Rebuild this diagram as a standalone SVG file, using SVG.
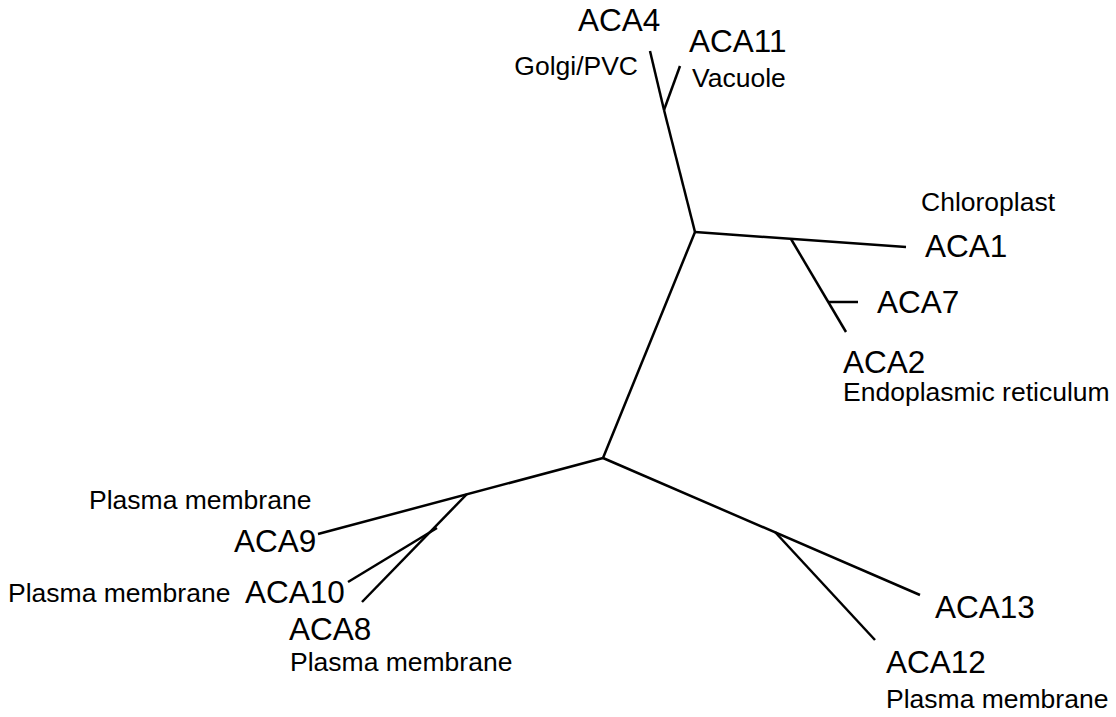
<svg xmlns="http://www.w3.org/2000/svg" width="1116" height="717" viewBox="0 0 1116 717">
<style>
.br{stroke:#000;stroke-width:2.5;fill:none;stroke-linecap:butt}
.acc{font-family:"Liberation Sans",Arial,Helvetica,sans-serif;font-size:31.5px;fill:#000}
.loc{font-family:"Liberation Sans",Arial,Helvetica,sans-serif;font-size:26.5px;fill:#000}
</style>
<rect width="1116" height="717" fill="#fff"/>
<g id="connectors">
<line class="br" x1="650" y1="51" x2="664" y2="110"/>
<line class="br" x1="680" y1="66" x2="664" y2="110"/>
<line class="br" x1="664" y1="110" x2="695" y2="232"/>
<line class="br" x1="695" y1="232" x2="906" y2="247"/>
<line class="br" x1="791" y1="239" x2="846" y2="332"/>
<line class="br" x1="828" y1="302" x2="858" y2="302"/>
<line class="br" x1="695" y1="232" x2="603" y2="458"/>
<line class="br" x1="603" y1="458" x2="318" y2="534"/>
<line class="br" x1="467" y1="494" x2="362" y2="602"/>
<line class="br" x1="437" y1="528" x2="348" y2="582"/>
<line class="br" x1="603" y1="458" x2="920" y2="595"/>
<line class="br" x1="775" y1="532" x2="875" y2="640"/>
</g>
<g id="ACA4"><text class="acc" x="578" y="31">ACA4</text><text class="loc" x="638" y="75" text-anchor="end">Golgi/PVC</text></g>
<g id="ACA11"><text class="acc" x="689" y="52">ACA11</text><text class="loc" x="692" y="87">Vacuole</text></g>
<g id="ACA1"><text class="loc" x="921" y="211">Chloroplast</text><text class="acc" x="925" y="257">ACA1</text></g>
<g id="ACA7"><text class="acc" x="877" y="313">ACA7</text></g>
<g id="ACA2"><text class="acc" x="843" y="373">ACA2</text><text class="loc" x="843" y="401">Endoplasmic reticulum</text></g>
<g id="ACA9"><text class="loc" x="89" y="509">Plasma membrane</text><text class="acc" x="234" y="552">ACA9</text></g>
<g id="ACA10"><text class="loc" x="8" y="602">Plasma membrane</text><text class="acc" x="245" y="603">ACA10</text></g>
<g id="ACA8"><text class="acc" x="289" y="640">ACA8</text><text class="loc" x="290" y="671">Plasma membrane</text></g>
<g id="ACA13"><text class="acc" x="935" y="618">ACA13</text></g>
<g id="ACA12"><text class="acc" x="886" y="673">ACA12</text><text class="loc" x="886" y="708">Plasma membrane</text></g>
</svg>
